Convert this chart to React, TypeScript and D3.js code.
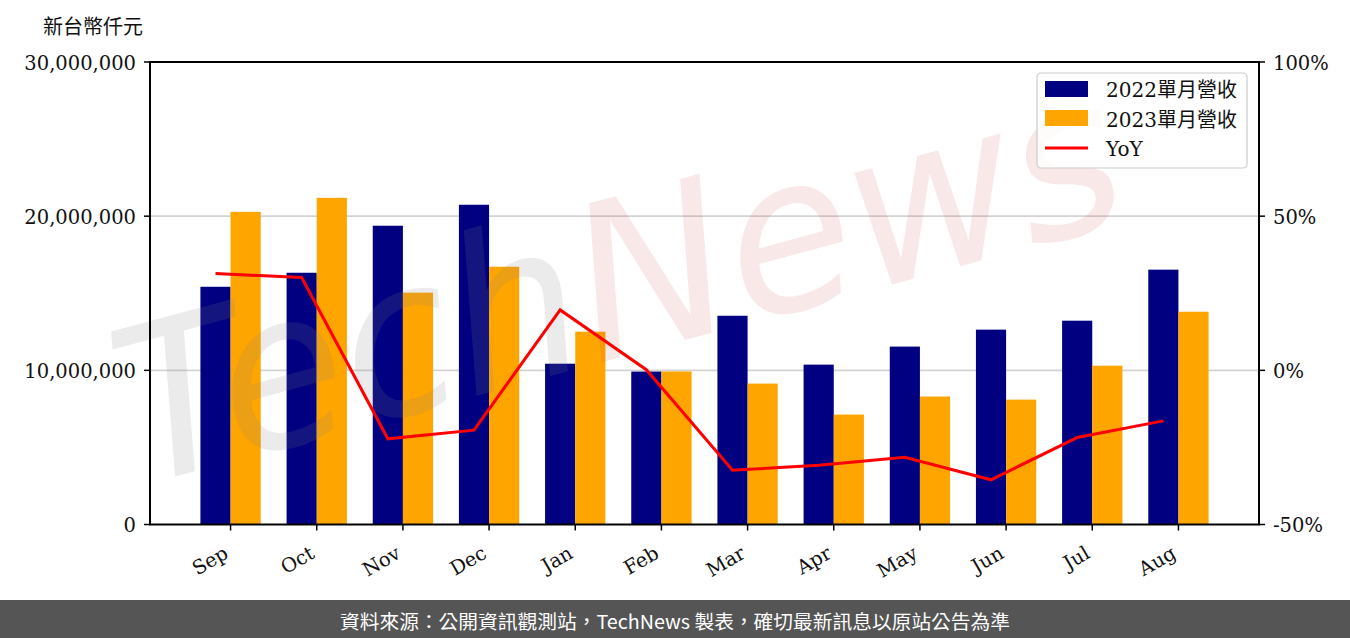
import React from "react";
import * as d3 from "d3";

const months = ["Sep", "Oct", "Nov", "Dec", "Jan", "Feb", "Mar", "Apr", "May", "Jun", "Jul", "Aug"];
const rev2022 = [15420000, 16330000, 19380000, 20740000, 10430000, 9920000, 13540000, 10370000, 11540000, 12640000, 13220000, 16530000];
const rev2023 = [20280000, 21190000, 15040000, 16720000, 12510000, 9930000, 9140000, 7130000, 8300000, 8100000, 10300000, 13800000];
const yoy = [31.4, 30.1, -22.2, -19.4, 19.6, 0.2, -32.4, -30.8, -28.2, -35.5, -21.8, -16.4];
const leftTicks = [0, 10000000, 20000000, 30000000];
const rightTicks = [-50, 0, 50, 100];
const legendLabels = ["2022單月營收", "2023單月營收", "YoY"];
const unitLabel = "新台幣仟元";
const footerText = "資料來源：公開資訊觀測站，TechNews 製表，確切最新訊息以原站公告為準";

const W = 1350;
const H = 638;
const L = 150, R = 1259, T = 62, B = 524.5;
const BW = 0.35;
const SERIF = "'DejaVu Serif', 'Noto Sans CJK TC', serif";

export default function App() {
  const x = d3.scaleLinear().domain([-0.935, 11.935]).range([L, R]);
  const y = d3.scaleLinear().domain([0, 30000000]).range([B, T]);
  const y2 = d3.scaleLinear().domain([-50, 100]).range([B, T]);
  const line = d3.line<number>().x((_, i) => x(i - BW / 2)).y((d) => y2(d));
  const fmt = d3.format(",");

  return (
    <svg width={W} height={H} style={{ position: "absolute", left: 0, top: 0, background: "#fff" }} fontFamily={SERIF}>
      <text x={43} y={27} fontSize={20} dominantBaseline="central" fill="#111">{unitLabel}</text>

      {/* grid */}
      {leftTicks.filter((t) => t > 0 && t < 30000000).map((t) => (
        <line key={t} x1={L} x2={R} y1={y(t)} y2={y(t)} stroke="#d3d3d3" strokeWidth={1.6} />
      ))}

      {/* bars */}
      {rev2022.map((v, i) => (
        <rect key={"a" + i} x={x(i - BW)} y={y(v)} width={x(i) - x(i - BW)} height={y(0) - y(v)} fill="#000080" />
      ))}
      {rev2023.map((v, i) => (
        <rect key={"b" + i} x={x(i)} y={y(v)} width={x(i + BW) - x(i)} height={y(0) - y(v)} fill="#FFA500" />
      ))}

      {/* watermark */}
      <g transform="translate(140,486) rotate(-15)">
        <text x={0} y={0} fontFamily="'DejaVu Sans', sans-serif" fontStyle="italic" fontSize={215} textLength={1030} lengthAdjust="spacingAndGlyphs">
          <tspan fill="#808080" fillOpacity={0.16}>Tech</tspan>
          <tspan fill="#d04040" fillOpacity={0.12}>News</tspan>
        </text>
      </g>

      {/* yoy line */}
      <path d={line(yoy) || ""} fill="none" stroke="#FF0000" strokeWidth={3} strokeLinejoin="miter" />

      {/* spines */}
      <rect x={L} y={T} width={R - L} height={B - T} fill="none" stroke="#000" strokeWidth={2} />

      {/* left axis */}
      {leftTicks.map((t) => (
        <g key={t}>
          <line x1={L - 6} x2={L} y1={y(t)} y2={y(t)} stroke="#000" strokeWidth={1.5} />
          <text x={L - 14} y={y(t) + 1} textAnchor="end" dominantBaseline="central" fontSize={19.5} fill="#111">{fmt(t)}</text>
        </g>
      ))}
      {/* right axis */}
      {rightTicks.map((t) => (
        <g key={t}>
          <line x1={R} x2={R + 6} y1={y2(t)} y2={y2(t)} stroke="#000" strokeWidth={1.5} />
          <text x={R + 14} y={y2(t) + 1} textAnchor="start" dominantBaseline="central" fontSize={19.5} fill="#111">{t + "%"}</text>
        </g>
      ))}
      {/* bottom axis */}
      {months.map((m, i) => (
        <g key={m}>
          <line x1={x(i)} x2={x(i)} y1={B} y2={B + 6} stroke="#000" strokeWidth={1.5} />
          <text transform={`translate(${x(i) - 1},${557}) rotate(-30)`} textAnchor="end" fontSize={19.5} fill="#111">{m}</text>
        </g>
      ))}

      {/* legend */}
      <rect x={1037} y={73} width={210} height={95} rx={4} fill="#fff" fillOpacity={0.8} stroke="#cccccc" strokeWidth={1.2} />
      <rect x={1045} y={81} width={43} height={16} fill="#000080" />
      <rect x={1045} y={110} width={43} height={16} fill="#FFA500" />
      <line x1={1045} x2={1088} y1={148} y2={148} stroke="#FF0000" strokeWidth={3} />
      {legendLabels.map((l, i) => (
        <text key={l} x={1106} y={89 + i * 29.5 + 1} dominantBaseline="central" fontSize={20} fill="#111">{l}</text>
      ))}

      {/* footer */}
      <rect x={0} y={600} width={W} height={38} fill="#555555" />
      <text x={340} y={620} textAnchor="start" dominantBaseline="central" fontSize={19} textLength={670} lengthAdjust="spacingAndGlyphs" fill="#fff" fontFamily="'Noto Sans CJK TC', sans-serif">{footerText}</text>
    </svg>
  );
}
